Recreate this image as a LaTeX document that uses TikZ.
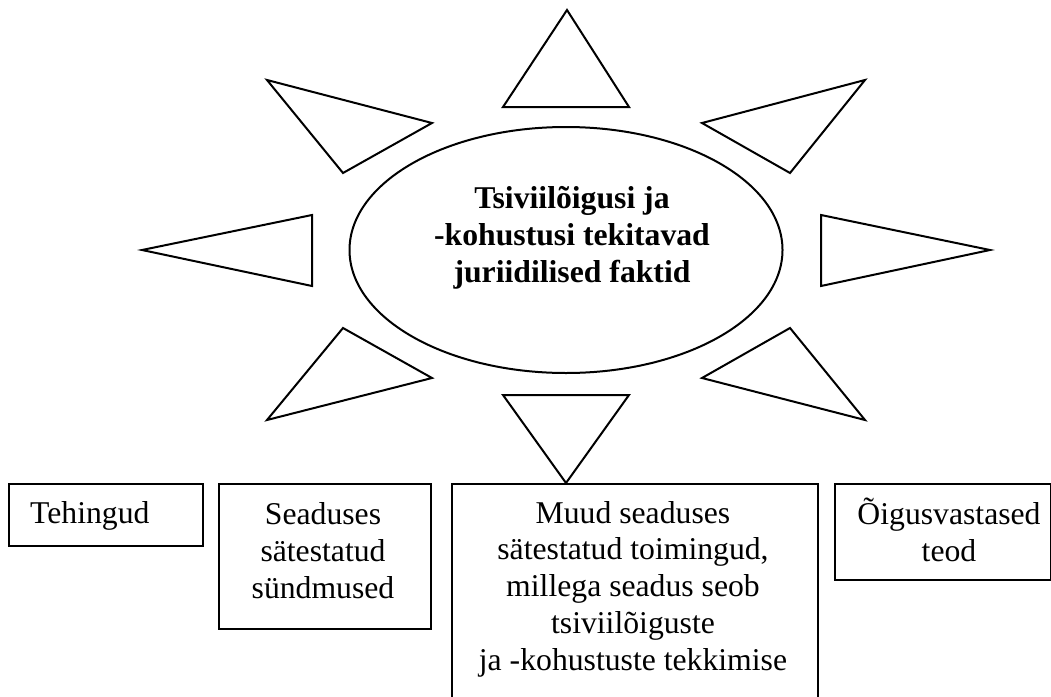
\documentclass[tikz,border=0pt]{standalone}
\usepackage{fontspec}
\setmainfont{Liberation Serif}
\usetikzlibrary{shapes.geometric}

\begin{document}
\begin{tikzpicture}[x=1pt, y=-1pt,
  ray/.style={draw=black, line width=2pt, line join=miter},
  hub/.style={draw=black, line width=2pt, ellipse, inner sep=0pt,
    minimum width=433pt, minimum height=246pt},
  hubtext/.style={font=\fontsize{31.7}{36.7}\selectfont\bfseries,
    align=center, inner sep=0pt, anchor=base},
  factbox/.style={draw=black, line width=2.2pt, rectangle, inner sep=0pt,
    anchor=north west},
  facttext/.style={font=\fontsize{31.7}{36.7}\selectfont,
    align=center, inner sep=0pt, anchor=base}]

\useasboundingbox (0,0) rectangle (1051,696);
\clip (0,0) rectangle (1051,696);

% central ellipse; the text is anchored at the baseline of its last line
\node[hub] (hub) at (566,250) {};
\node[hubtext] (hubtitle) at (572,282)
  {Tsiviilõigusi ja\\-kohustusi tekitavad\\juriidilised faktid};

% rays around the ellipse
\draw[ray] (567,10) -- (629,107) -- (503,107) -- cycle;
\draw[ray] (267,80) -- (432,123) -- (343,173) -- cycle;
\draw[ray] (865,80) -- (702,123) -- (790,173) -- cycle;
\draw[ray] (142,250) -- (312,215) -- (312,286) -- cycle;
\draw[ray] (990,250) -- (821,215) -- (821,286) -- cycle;
\draw[ray] (267,420) -- (343,328) -- (432,378) -- cycle;
\draw[ray] (865,420) -- (790,328) -- (702,378) -- cycle;
\draw[ray] (503,395) -- (629,395) -- (566,483) -- cycle;

% boxes of facts
\node[factbox, minimum width=194pt, minimum height=62pt] (b1) at (8,483) {};
\node[factbox, minimum width=212pt, minimum height=145pt] (b2) at (218,483) {};
\node[factbox, minimum width=366pt, minimum height=240pt] (b3) at (451,483) {};
\node[factbox, minimum width=216pt, minimum height=96pt] (b4) at (834,483) {};

\node[facttext, anchor=base west] (t1) at (30,523) {Tehingud};
\node[facttext] (t2) at (323,598) {Seaduses\\sätestatud\\sündmused};
\node[facttext] (t3) at (633,670)
  {Muud seaduses\\sätestatud toimingud,\\millega seadus seob\\tsiviilõiguste\\ja -kohustuste tekkimise};
\node[facttext] (t4) at (949,561) {Õigusvastased\\teod};
\end{tikzpicture}
\end{document}
